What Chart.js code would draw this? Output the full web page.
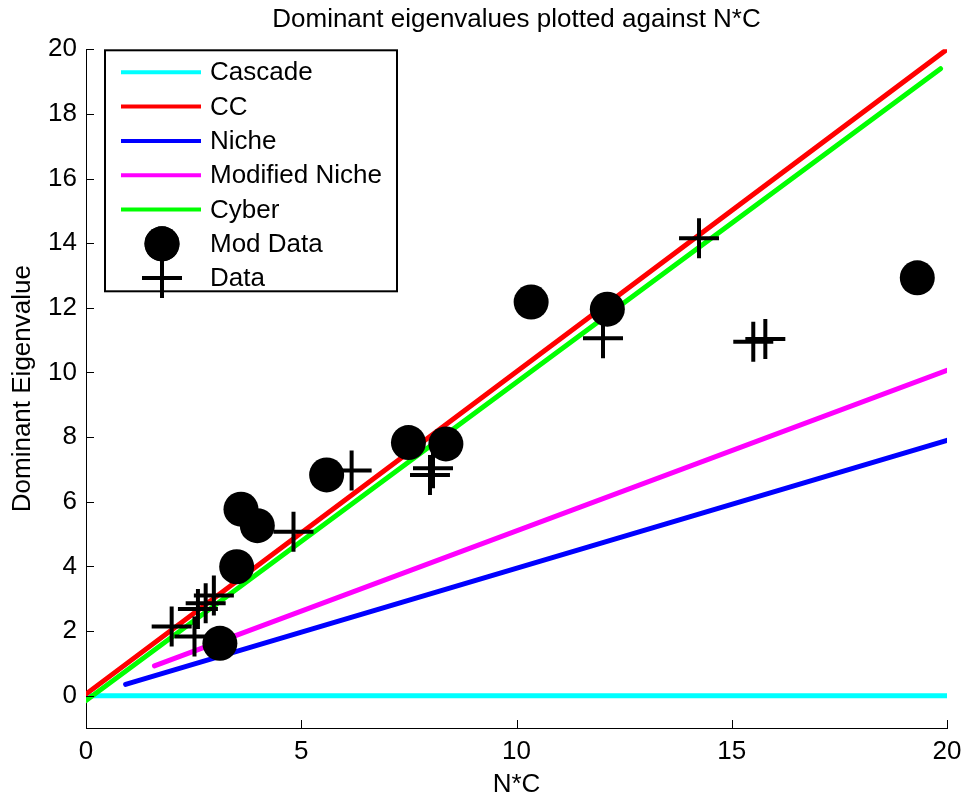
<!DOCTYPE html>
<html>
<head>
<meta charset="utf-8">
<title>Dominant eigenvalues plotted against N*C</title>
<script src="https://cdn.jsdelivr.net/npm/chart.js@4.4.1/dist/chart.umd.min.js"></script>
<style>
  body { margin: 0; background: #fff; }
  canvas { display: block; }
</style>
</head>
<body>
<canvas id="eigenChart" width="964" height="798"></canvas>
<script>
// model lines, start and end point
const cascadeX = [0.1, 20];
const cascadeY = [0, 0];
const ccX = [0, 20];
const ccY = [0.05, 20];
const nicheX = [0.92, 20];
const nicheY = [0.35, 7.9];
const modNicheX = [1.59, 20];
const modNicheY = [0.92, 10.07];
const cyberX = [0, 19.85];
const cyberY = [-0.15, 19.4];

// measured webs
const modDataX = [3.11, 3.5, 3.6, 3.98, 5.59, 7.49, 8.36, 10.34, 12.11, 19.31];
const modDataY = [1.62, 3.99, 5.77, 5.26, 6.83, 7.83, 7.79, 12.18, 11.96, 12.93];
const dataX = [1.99, 2.52, 2.6, 2.78, 2.97, 4.82, 6.17, 7.99, 8.06, 12.01, 14.24, 15.5, 15.78];
const dataY = [2.14, 1.83, 2.68, 2.86, 3.1, 5.07, 6.97, 6.83, 7.04, 11.06, 14.15, 10.95, 11.04];

const xTicks = [0, 5, 10, 15, 20];
const yTicks = [0, 2, 4, 6, 8, 10, 12, 14, 16, 18, 20];

Chart.defaults.font.family = "'Liberation Sans', Arial, Helvetica, sans-serif";
Chart.defaults.color = '#000';

function toPoints(xs, ys) {
    return xs.map((x, i) => ({ x: x, y: ys[i] }));
}

function lineSet(label, xs, ys, color, order) {
    return {
        label: label,
        data: toPoints(xs, ys),
        showLine: true,
        borderColor: color,
        backgroundColor: color,
        borderWidth: 5,
        borderCapStyle: 'round',
        pointRadius: 0,
        pointHoverRadius: 0,
        order: order
    };
}

// MATLAB style: ticks inside the axes, legend box in the top left corner
const matlabBits = {
    id: 'matlabBits',
    afterDraw(chart) {
        const ctx = chart.ctx;
        const area = chart.chartArea;
        const xs = chart.scales.x;
        const ys = chart.scales.y;

        ctx.save();
        ctx.strokeStyle = '#000';
        ctx.lineWidth = 1;
        ctx.beginPath();
        xs.ticks.forEach(t => {
            const px = Math.round(xs.getPixelForValue(t.value)) + 0.5;
            ctx.moveTo(px, area.bottom);
            ctx.lineTo(px, area.bottom - 8);
        });
        ys.ticks.forEach(t => {
            const py = Math.round(ys.getPixelForValue(t.value)) + 0.5;
            ctx.moveTo(area.left, py);
            ctx.lineTo(area.left + 8, py);
        });
        ctx.stroke();

        // legend
        const left = area.left + 19;
        const top = area.top + 1;
        const width = 292;
        const height = 241;
        const rowGap = 34.3;
        ctx.fillStyle = '#fff';
        ctx.fillRect(left, top, width, height);
        ctx.lineWidth = 2;
        ctx.strokeRect(left, top, width, height);

        ctx.font = "26px 'Liberation Sans', Arial, sans-serif";
        ctx.textBaseline = 'middle';
        ctx.textAlign = 'left';
        chart.data.datasets.forEach((ds, i) => {
            const cy = top + 22 + i * rowGap;
            if (ds.showLine) {
                ctx.strokeStyle = ds.borderColor;
                ctx.lineWidth = 4;
                ctx.lineCap = 'butt';
                ctx.beginPath();
                ctx.moveTo(left + 16, cy);
                ctx.lineTo(left + 96, cy);
                ctx.stroke();
            } else {
                ctx.fillStyle = '#000';
                ctx.strokeStyle = '#000';
                ctx.lineWidth = ds.borderWidth;
                Chart.helpers.drawPoint(ctx, {
                    pointStyle: ds.pointStyle,
                    radius: ds.pointRadius,
                    borderWidth: ds.borderWidth,
                    rotation: 0
                }, left + 57, cy);
                if (ds.pointStyle === 'circle') {
                    ctx.beginPath();
                    ctx.arc(left + 57, cy, ds.pointRadius, 0, Math.PI * 2);
                    ctx.fill();
                }
            }
            ctx.fillStyle = '#000';
            ctx.fillText(ds.label, left + 105, cy + 1);
        });
        ctx.restore();
    }
};

const ctx = document.getElementById('eigenChart').getContext('2d');
const eigenChart = new Chart(ctx, {
    type: 'scatter',
    data: {
        datasets: [
            lineSet('Cascade', cascadeX, cascadeY, '#00ffff', 7),
            lineSet('CC', ccX, ccY, '#ff0000', 6),
            lineSet('Niche', nicheX, nicheY, '#0000ff', 5),
            lineSet('Modified Niche', modNicheX, modNicheY, '#ff00ff', 4),
            lineSet('Cyber', cyberX, cyberY, '#00ff00', 3),
            {
                label: 'Mod Data',
                data: toPoints(modDataX, modDataY),
                pointStyle: 'circle',
                pointRadius: 17.5,
                pointHoverRadius: 17.5,
                backgroundColor: '#000',
                borderColor: '#000',
                borderWidth: 0,
                order: 2
            },
            {
                label: 'Data',
                data: toPoints(dataX, dataY),
                pointStyle: 'cross',
                pointRadius: 20,
                pointHoverRadius: 20,
                backgroundColor: '#000',
                borderColor: '#000',
                borderWidth: 4,
                order: 1
            }
        ]
    },
    options: {
        responsive: false,
        animation: false,
        events: [],
        layout: { autoPadding: false, padding: { left: 0, right: 17, top: 0, bottom: 0 } },
        scales: {
            x: {
                type: 'linear',
                min: 0,
                max: 20,
                afterBuildTicks: scale => { scale.ticks = xTicks.map(v => ({ value: v })); },
                afterFit: scale => {
                    scale.height = 70;
                    scale.paddingLeft = 0;
                    scale.paddingRight = 0;
                },
                grid: { display: false, drawTicks: false },
                border: { display: true, color: '#000', width: 1 },
                ticks: { font: { size: 26 }, color: '#000', padding: 8, maxRotation: 0 },
                title: { display: true, text: 'N*C', font: { size: 26 }, color: '#000', padding: { top: 0, bottom: -2 } }
            },
            y: {
                type: 'linear',
                min: -1,
                max: 20,
                afterBuildTicks: scale => { scale.ticks = yTicks.map(v => ({ value: v })); },
                afterFit: scale => {
                    scale.width = 86;
                    scale.paddingTop = 0;
                    scale.paddingBottom = 0;
                },
                grid: { display: false, drawTicks: false },
                border: { display: true, color: '#000', width: 1 },
                ticks: { font: { size: 26 }, color: '#000', padding: 9 },
                title: { display: true, text: 'Dominant Eigenvalue', font: { size: 26 }, color: '#000', padding: { top: 7, bottom: 0 } }
            }
        },
        plugins: {
            legend: { display: false },
            tooltip: { enabled: false },
            title: {
                display: true,
                fullSize: false,
                text: 'Dominant eigenvalues plotted against N*C',
                color: '#000',
                font: { size: 26, weight: 'normal' },
                padding: { top: 4.4, bottom: 13.7 }
            }
        }
    },
    plugins: [matlabBits]
});
</script>
</body>
</html>
